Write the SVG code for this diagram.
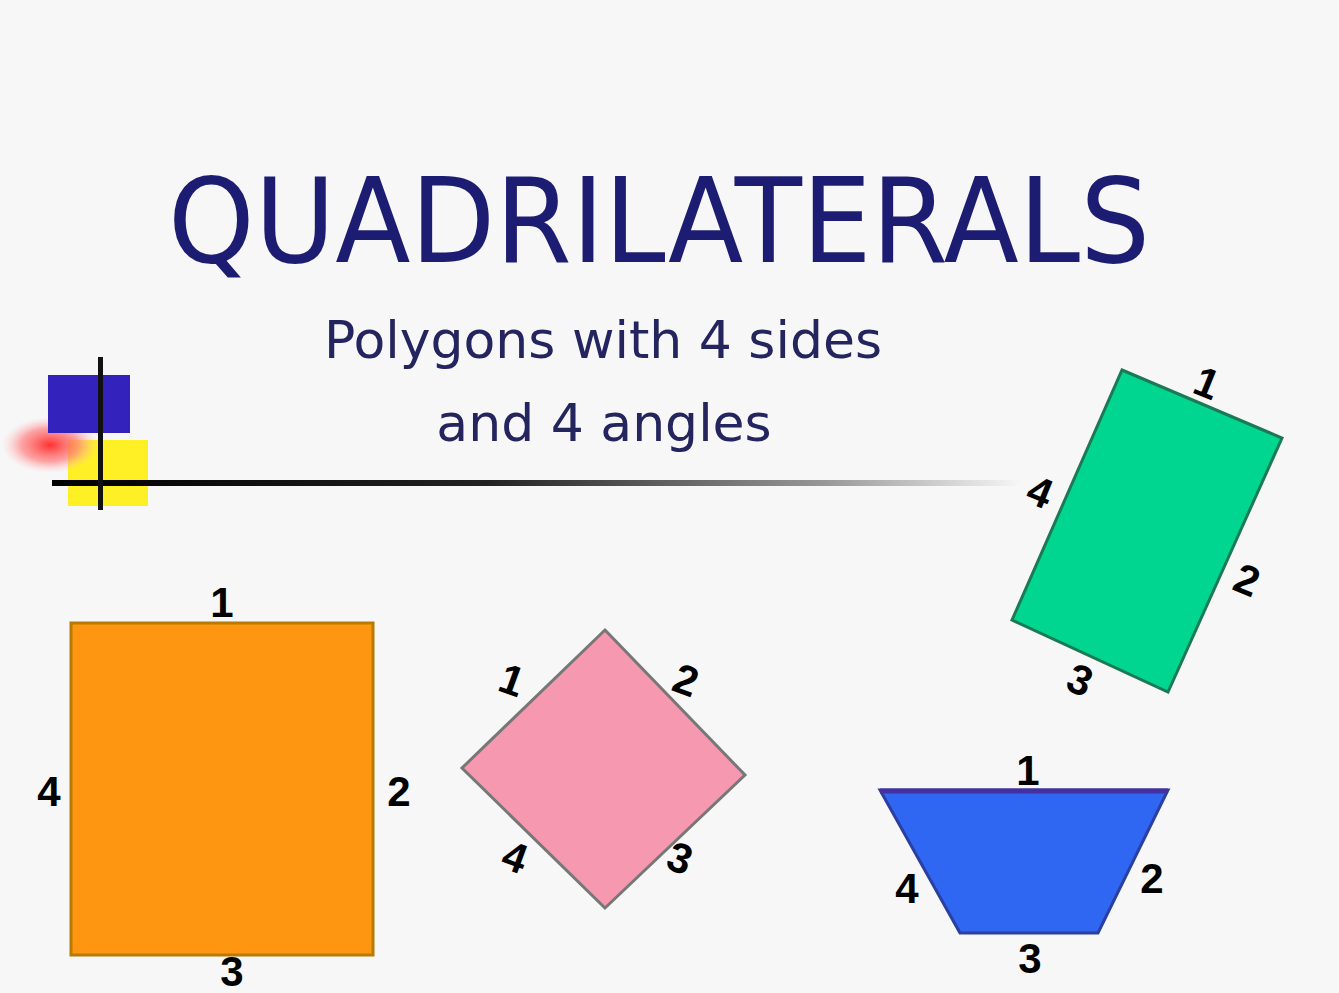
<svg xmlns="http://www.w3.org/2000/svg" width="1339" height="993" viewBox="0 0 1339 993">
<defs>
<style>
.num{font-family:"Liberation Sans",Arial,sans-serif;font-weight:bold;font-size:42px;fill:#000;text-anchor:middle;dominant-baseline:central}
.title{font-family:"DejaVu Sans",Verdana,sans-serif;fill:#1c1c72}
.sub{font-family:"DejaVu Sans",Verdana,sans-serif;font-size:52px;fill:#24245e;text-anchor:middle}
</style>
<linearGradient id="lineGrad" x1="0" y1="0" x2="1" y2="0">
<stop offset="0" stop-color="#000"/>
<stop offset="0.45" stop-color="#222"/>
<stop offset="0.8" stop-color="#999"/>
<stop offset="1" stop-color="#f7f7f7"/>
</linearGradient>
<radialGradient id="redBlob" cx="0.5" cy="0.5" r="0.5">
<stop offset="0" stop-color="#ff3030"/>
<stop offset="0.6" stop-color="#ff8080" stop-opacity="0.7"/>
<stop offset="1" stop-color="#ffc0c8" stop-opacity="0"/>
</radialGradient>
</defs>
<rect width="1339" height="993" fill="#f7f7f7"/>

<g id="title">
<text class="title" x="168" y="262" font-size="118" textLength="982" lengthAdjust="spacingAndGlyphs">QUADRILATERALS</text>
</g>
<g id="subtitle">
<text class="sub" x="603" y="358">Polygons with 4 sides</text>
<text class="sub" x="604" y="441">and 4 angles</text>
</g>

<g id="decoration">
<rect x="68" y="440" width="80" height="66" fill="#ffee00" opacity="0.85"/>
<ellipse cx="50" cy="445" rx="48" ry="28" fill="url(#redBlob)"/>
<rect x="48" y="375" width="82" height="58" fill="#3322bb"/>
<rect x="52" y="480" width="970" height="6" fill="url(#lineGrad)"/>
<rect x="98" y="357" width="5" height="153" fill="#111"/>
</g>

<g id="square">
<rect x="71" y="623" width="302" height="332" fill="#ff9612" stroke="#b87a00" stroke-width="3"/>
<text class="num" x="222" y="602">1</text>
<text class="num" x="399" y="791">2</text>
<text class="num" x="232" y="971">3</text>
<text class="num" x="49" y="791">4</text>
</g>

<g id="rhombus">
<polygon points="605,630 745,775 605,908 462,768" fill="#f598b0" stroke="#777" stroke-width="3"/>
<text class="num" transform="translate(512,680) rotate(20)">1</text>
<text class="num" transform="translate(686,680) rotate(20)">2</text>
<text class="num" transform="translate(680,858) rotate(20)">3</text>
<text class="num" transform="translate(515,857) rotate(20)">4</text>
</g>

<g id="rectangle">
<polygon points="1122,370 1282,438 1168,692 1012,620" fill="#00d690" stroke="#1a7a55" stroke-width="3"/>
<text class="num" transform="translate(1207,383) rotate(22)">1</text>
<text class="num" transform="translate(1247,580) rotate(22)">2</text>
<text class="num" transform="translate(1080,680) rotate(22)">3</text>
<text class="num" transform="translate(1040,492) rotate(22)">4</text>
</g>

<g id="trapezoid">
<polygon points="880,790 1168,790 1098,933 960,933" fill="#2f66f2" stroke="#2a3fa0" stroke-width="3"/>
<line x1="880" y1="791" x2="1168" y2="791" stroke="#4430a0" stroke-width="5"/>
<text class="num" x="1028" y="770">1</text>
<text class="num" x="1152" y="878">2</text>
<text class="num" x="1030" y="958">3</text>
<text class="num" x="907" y="888">4</text>
</g>
</svg>
